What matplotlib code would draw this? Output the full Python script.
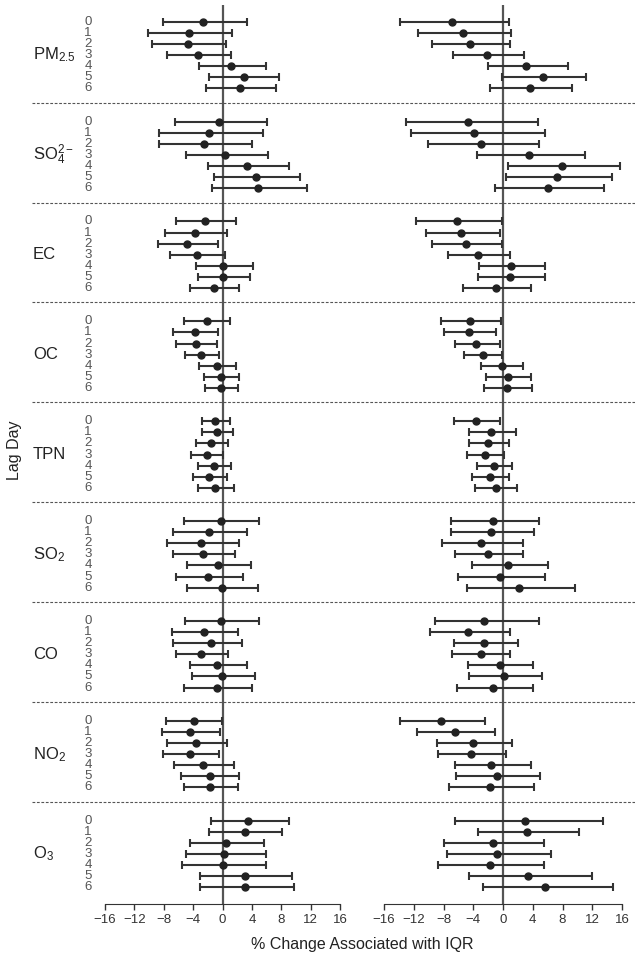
import numpy as np
import matplotlib
matplotlib.use("Agg")
import matplotlib.pyplot as plt
import matplotlib.transforms as mtransforms

plt.rcParams['font.family'] = ['Liberation Sans', 'DejaVu Sans']
plt.rcParams['mathtext.fontset'] = 'custom'
plt.rcParams['mathtext.rm'] = 'Liberation Sans'
plt.rcParams['mathtext.it'] = 'Liberation Sans:italic'
plt.rcParams['mathtext.default'] = 'regular'

pollutants = ['PM$_{2.5}$', 'SO$_4^{2-}$', 'EC', 'OC', 'TPN', 'SO$_2$', 'CO', 'NO$_2$', 'O$_3$']
lags = ['0', '1', '2', '3', '4', '5', '6']

# left panel: estimate, lower, upper (one row per lag, pollutants in order)
left_est = [
    [-2.6, -4.6, -4.7, -3.3, 1.1, 2.9, 2.4],
    [-0.5, -1.9, -2.5, 0.4, 3.3, 4.5, 4.8],
    [-2.4, -3.7, -4.9, -3.5, 0.1, 0.1, -1.1],
    [-2.1, -3.8, -3.6, -2.9, -0.8, -0.2, -0.2],
    [-1.0, -0.7, -1.5, -2.1, -1.1, -1.8, -1.0],
    [-0.2, -1.9, -2.9, -2.6, -0.6, -2.0, -0.1],
    [-0.2, -2.5, -1.6, -2.9, -0.7, -0.1, -0.8],
    [-3.9, -4.4, -3.6, -4.4, -2.7, -1.7, -1.7],
    [3.5, 3.0, 0.5, 0.2, 0.0, 3.0, 3.1],
]
left_lo = [
    [-8.1, -10.2, -9.6, -7.5, -3.2, -1.8, -2.2],
    [-6.5, -8.7, -8.6, -5.0, -2.0, -1.1, -1.4],
    [-6.3, -7.8, -8.8, -7.1, -3.6, -3.3, -4.4],
    [-5.2, -6.8, -6.4, -5.1, -3.2, -2.5, -2.4],
    [-2.8, -2.8, -3.6, -4.3, -3.3, -4.0, -3.4],
    [-5.2, -6.8, -7.5, -6.7, -4.9, -6.4, -4.8],
    [-5.1, -6.9, -6.7, -6.4, -4.4, -4.2, -5.3],
    [-7.7, -8.2, -7.5, -8.1, -6.6, -5.7, -5.2],
    [-1.6, -1.8, -4.4, -5.0, -5.5, -3.1, -3.0],
]
left_hi = [
    [3.3, 1.3, 0.5, 1.2, 5.9, 7.7, 7.3],
    [6.0, 5.5, 4.0, 6.2, 9.0, 10.5, 11.5],
    [1.9, 0.6, -0.6, 0.4, 4.1, 3.8, 2.3],
    [1.0, -0.6, -0.8, -0.5, 1.8, 2.3, 2.1],
    [1.0, 1.4, 0.8, 0.1, 1.1, 0.6, 1.6],
    [5.0, 3.4, 2.2, 1.7, 3.9, 2.8, 4.9],
    [5.0, 2.1, 2.6, 0.8, 3.3, 4.4, 4.0],
    [-0.1, -0.4, 0.6, -0.5, 1.5, 2.3, 2.1],
    [9.1, 8.1, 5.7, 5.9, 5.9, 9.5, 9.8],
]

# right panel
right_est = [
    [-6.8, -5.4, -4.4, -2.2, 3.1, 5.4, 3.6],
    [-4.7, -3.9, -3.0, 3.5, 7.9, 7.3, 6.0],
    [-6.2, -5.6, -5.0, -3.4, 1.1, 1.0, -1.0],
    [-4.5, -4.6, -3.6, -2.7, -0.2, 0.7, 0.6],
    [-3.6, -1.6, -2.0, -2.4, -1.2, -1.8, -1.0],
    [-1.3, -1.6, -2.9, -2.0, 0.7, -0.4, 2.1],
    [-2.5, -4.7, -2.5, -3.0, -0.4, 0.1, -1.3],
    [-8.3, -6.5, -4.0, -4.3, -1.6, -0.8, -1.7],
    [3.0, 3.2, -1.4, -0.8, -1.8, 3.4, 5.6],
]
right_lo = [
    [-13.8, -11.4, -9.6, -6.7, -2.0, -0.1, -1.7],
    [-13.0, -12.4, -10.1, -3.5, 0.7, 0.4, -1.1],
    [-11.7, -10.4, -9.5, -7.4, -3.2, -3.4, -5.4],
    [-8.4, -7.9, -6.5, -5.2, -2.9, -2.3, -2.6],
    [-6.6, -4.6, -4.6, -4.8, -3.5, -4.2, -3.8],
    [-7.0, -7.0, -8.2, -6.5, -4.2, -6.1, -4.9],
    [-9.2, -9.8, -6.6, -6.8, -4.7, -4.6, -6.2],
    [-13.8, -11.6, -8.9, -8.7, -6.5, -6.3, -7.2],
    [-6.4, -3.3, -7.9, -7.5, -8.7, -4.6, -2.7],
]
right_hi = [
    [0.8, 1.1, 1.0, 2.8, 8.7, 11.2, 9.3],
    [4.7, 5.6, 4.8, 11.0, 15.7, 14.6, 13.6],
    [-0.1, -0.4, -0.1, 1.0, 5.7, 5.7, 3.8],
    [-0.3, -1.0, -0.4, -0.1, 2.7, 3.8, 3.9],
    [-0.4, 1.7, 0.8, 0.1, 1.2, 0.8, 1.9],
    [4.8, 4.2, 2.7, 2.7, 6.0, 5.6, 9.7],
    [4.9, 0.9, 2.0, 0.9, 4.1, 5.2, 4.0],
    [-2.4, -1.1, 1.2, 0.4, 3.7, 5.0, 4.2],
    [13.5, 10.2, 5.5, 6.5, 5.5, 11.9, 14.8],
]

xticks = [-16, -12, -8, -4, 0, 4, 8, 12, 16]
step = 9  # rows per pollutant block, incl. gap

fig = plt.figure(figsize=(6.35, 9.59), dpi=100)
ax_l = fig.add_axes([105 / 635, 1 - 904 / 959, 235 / 635, 899 / 959])
ax_r = fig.add_axes([384 / 635, 1 - 904 / 959, 238 / 635, 899 / 959])

ypos = np.array([[g * step + r for r in range(len(lags))] for g in range(len(pollutants))])

for ax, est, lo, hi in [(ax_l, left_est, left_lo, left_hi), (ax_r, right_est, right_lo, right_hi)]:
    est = np.array(est)
    lo = np.array(lo)
    hi = np.array(hi)
    ax.axvline(0, color='#555555', lw=1.6, zorder=1)
    ax.errorbar(est.ravel(), ypos.ravel(),
                xerr=[est.ravel() - lo.ravel(), hi.ravel() - est.ravel()],
                fmt='o', color='#222222', ecolor='#333333', elinewidth=1.5,
                capsize=2.6, capthick=1.5, markersize=5, zorder=3)
    ax.set_xlim(-16, 16)
    ax.set_ylim(len(pollutants) * step - 1.5, -1.5)
    ax.set_xticks(xticks)
    ax.set_yticks([])
    for s in ['left', 'right', 'top']:
        ax.spines[s].set_visible(False)
    ax.spines['bottom'].set_color('#333333')
    ax.tick_params(axis='x', direction='out', length=4, width=1, colors='#333333',
                   labelsize=9.5, labelcolor='#333333')
    ax.patch.set_alpha(0)

# dashed separators across the whole figure
trans = mtransforms.blended_transform_factory(fig.transFigure, ax_l.transData)
for g in range(len(pollutants) - 1):
    yy = g * step + 7.3
    ax_l.plot([32 / 635, 1.0], [yy, yy], transform=trans, clip_on=False,
              color='#555555', lw=0.8, ls=(0, (2.5, 1.5)), zorder=0)

# lag day labels and pollutant names
for g, name in enumerate(pollutants):
    for r, lag in enumerate(lags):
        ax_l.text(88 / 635, g * step + r, lag, transform=trans, ha='center', va='center',
                  fontsize=9.5, color='#555555')
    ax_l.text(33 / 635, g * step + 3, name, transform=trans, ha='left', va='center',
              fontsize=12, color='#222222')

fig.text(14.5 / 635, 1 - 450 / 959, 'Lag Day', rotation=90, ha='center', va='center',
         fontsize=11.5, color='#222222')
fig.text(362 / 635, 1 - 945 / 959, '% Change Associated with IQR', ha='center', va='center',
         fontsize=11.5, color='#222222')

fig.savefig('out.png', dpi=100)
